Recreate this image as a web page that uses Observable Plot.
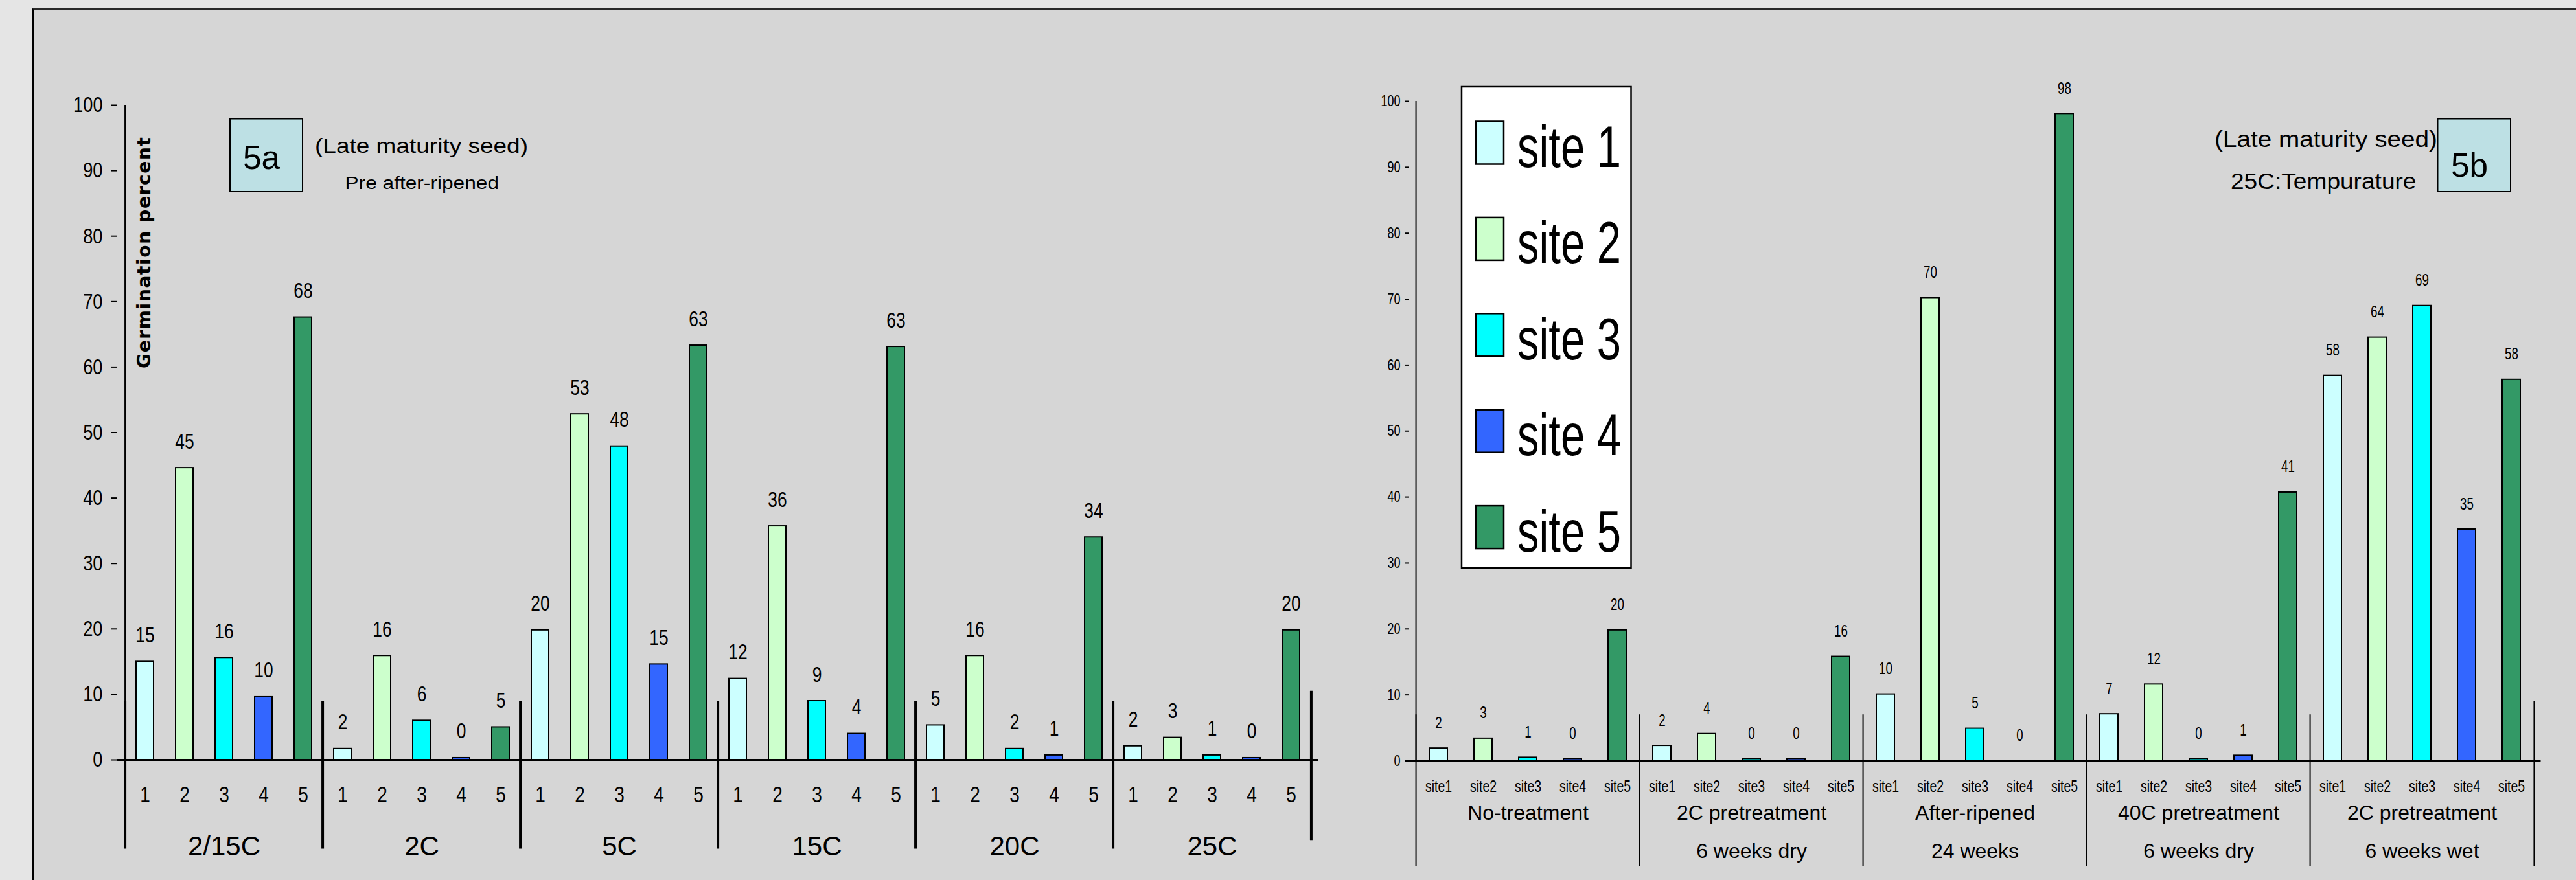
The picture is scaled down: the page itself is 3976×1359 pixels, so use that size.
<!DOCTYPE html>
<html><head><meta charset="utf-8">
<script src="https://cdn.jsdelivr.net/npm/d3@7"></script>
<script src="https://cdn.jsdelivr.net/npm/@observablehq/plot@0.6"></script>
<style>
html,body{margin:0;padding:0}
body{width:3976px;height:1359px;background:#e5e5e5;position:relative;overflow:hidden;font-family:"Liberation Sans",Arial,Helvetica,sans-serif}
#panel{position:absolute;left:50px;top:13px;width:4000px;height:1400px;background:#d6d6d6;border-left:2px solid #000;border-top:2px solid #2a2a2a}
.layer{position:absolute;left:0;top:0}
</style></head><body>
<div id="panel"></div>
<div id="chartA" class="layer"></div>
<div id="chartB" class="layer"></div>
<svg id="ov" class="layer" width="3976" height="1359"></svg>
<script>
// ---------------- data ----------------
const sites = ["site 1", "site 2", "site 3", "site 4", "site 5"];
const siteColors = ["#ccffff", "#ccffcc", "#00ffff", "#3366ff", "#339966"];

// 5a: germination temperature groups (pre after-ripened)
const groupsA = ["2/15C", "2C", "5C", "15C", "20C", "25C"];
const tickLabelsA = ["1", "2", "3", "4", "5"];
const valuesA = [
  [15.0, 44.6, 15.6, 9.6, 67.6],
  [1.7, 15.9, 6.0, 0.3, 5.0],
  [19.8, 52.8, 47.9, 14.6, 63.3],
  [12.4, 35.7, 9.0, 4.0, 63.1],
  [5.3, 15.9, 1.7, 0.7, 34.0],
  [2.1, 3.4, 0.7, 0.3, 19.8]
];

// 5b: treatments at 25C
const groupsB = ["No-treatment", "2C pretreatment", "After-ripened", "40C pretreatment", "2C pretreatment"];
const groupsB2 = ["", "6 weeks dry", "24 weeks", "6 weeks dry", "6 weeks wet"];
const tickLabelsB = ["site1", "site2", "site3", "site4", "site5"];
const valuesB = [
  [1.9, 3.4, 0.5, 0.3, 19.8],
  [2.3, 4.1, 0.3, 0.3, 15.8],
  [10.1, 70.2, 4.9, 0, 98.1],
  [7.1, 11.6, 0.3, 0.8, 40.7],
  [58.4, 64.2, 69.0, 35.1, 57.8]
];

// ---------------- helpers ----------------
const W = 3976, H = 1359;
const fontFam = '"Liberation Sans", Arial, Helvetica, sans-serif';

function build(groups, ticks, values) {
  const rows = [];
  groups.forEach((g, gi) => values[gi].forEach((v, si) =>
    rows.push({key: gi + "|" + si, gi, group: g, site: sites[si], tick: ticks[si], value: v})));
  return rows;
}
function condense(svg, factor) {
  svg.querySelectorAll("text").forEach(t => {
    if (!/^(\d+|site\d)$/.test(t.textContent.trim())) return;
    const w = t.getComputedTextLength();
    t.setAttribute("textLength", (w * factor).toFixed(2));
    t.setAttribute("lengthAdjust", "spacingAndGlyphs");
  });
}
const fmt = d => String(Math.round(d.value));

// ---------------- chart 5a ----------------
const dataA = build(groupsA, tickLabelsA, valuesA);
const keysA = dataA.map(d => d.key);
const A = {left: 180, right: 2035, top: 162, bottom: 1173};
const stepA = (A.right - A.left) / keysA.length;
const midA = groupsA.map((g, gi) => ({key: gi + "|2", label: g}));
const firstA = groupsA.map((g, gi) => ({key: gi + "|0"}));
const lastA = [{key: (groupsA.length - 1) + "|4"}];

const plotA = Plot.plot({
  width: W, height: H,
  marginLeft: A.left, marginRight: W - A.right, marginTop: A.top, marginBottom: H - A.bottom,
  style: {background: "transparent", fontFamily: fontFam, overflow: "visible", color: "black"},
  x: {type: "band", domain: keysA, paddingInner: 0.56, paddingOuter: 0.28, axis: null},
  y: {domain: [0, 100], axis: null},
  color: {domain: sites, range: siteColors},
  marks: [
    Plot.axisY({ticks: 10, tickSize: 9, tickPadding: 13, fontSize: 34, strokeWidth: 2, label: null, tickFormat: d => String(d)}),
    Plot.ruleX([keysA[0]], {dx: -stepA / 2, y1: 0, y2: 100, stroke: "black", strokeWidth: 2}),
    Plot.barY(dataA.filter(d => d.value > 0), {x: "key", y: "value", fill: "site", stroke: "black", strokeWidth: 2}),
    Plot.ruleY([0], {stroke: "black", strokeWidth: 3}),
    Plot.ruleX(firstA, {x: "key", dx: -stepA / 2, y1: 9, y2: -13.6, stroke: "black", strokeWidth: 4}),
    Plot.ruleX(lastA, {x: "key", dx: stepA / 2, y1: 10.5, y2: -12.3, stroke: "black", strokeWidth: 4}),
    Plot.text(dataA, {x: "key", y: "value", text: fmt, lineAnchor: "bottom", dy: -30, fontSize: 33}),
    Plot.text(dataA, {x: "key", y: 0, text: "tick", lineAnchor: "bottom", dy: 65, fontSize: 35}),
    Plot.text(midA, {x: "key", y: 0, text: "label", lineAnchor: "bottom", dy: 147, fontSize: 42})
  ]
});
document.getElementById("chartA").append(plotA);
condense(plotA, 0.8);

// ---------------- chart 5b ----------------
const dataB = build(groupsB, tickLabelsB, valuesB);
const keysB = dataB.map(d => d.key);
const B = {left: 2175, right: 3921.5, top: 156, bottom: 1174.5};
const stepB = (B.right - B.left) / keysB.length;
const midB = groupsB.map((g, gi) => ({key: gi + "|2", label: g, label2: groupsB2[gi]}));
const firstB = groupsB.map((g, gi) => ({key: gi + "|0"}));
const lastB = [{key: (groupsB.length - 1) + "|4"}];

const plotB = Plot.plot({
  width: W, height: H,
  marginLeft: B.left, marginRight: W - B.right, marginTop: B.top, marginBottom: H - B.bottom,
  style: {background: "transparent", fontFamily: fontFam, overflow: "visible", color: "black"},
  x: {type: "band", domain: keysB, paddingInner: 0.6, paddingOuter: 0.3, axis: null},
  y: {domain: [0, 100], axis: null},
  color: {domain: sites, range: siteColors},
  marks: [
    Plot.axisY({ticks: 10, tickSize: 7, tickPadding: 7, fontSize: 24, strokeWidth: 2, label: null, tickFormat: d => String(d)}),
    Plot.ruleX([keysB[0]], {dx: -stepB / 2, y1: 0, y2: 100, stroke: "black", strokeWidth: 2}),
    Plot.barY(dataB.filter(d => d.value > 0), {x: "key", y: "value", fill: "site", stroke: "black", strokeWidth: 2}),
    Plot.ruleY([0], {stroke: "black", strokeWidth: 3}),
    Plot.ruleX(firstB, {x: "key", dx: -stepB / 2, y1: 7, y2: -16, stroke: "black", strokeWidth: 2}),
    Plot.ruleX(lastB, {x: "key", dx: stepB / 2, y1: 9, y2: -16, stroke: "black", strokeWidth: 2}),
    Plot.text(dataB, {x: "key", y: "value", text: fmt, lineAnchor: "bottom", dy: -31, fontSize: 25}),
    Plot.text(dataB, {x: "key", y: 0, text: "tick", lineAnchor: "bottom", dy: 48, fontSize: 26}),
    Plot.text(midB, {x: "key", y: 0, text: "label", lineAnchor: "bottom", dy: 90.5, fontSize: 32}),
    Plot.text(midB, {x: "key", y: 0, text: "label2", lineAnchor: "bottom", dy: 149.5, fontSize: 32})
  ]
});
document.getElementById("chartB").append(plotB);
condense(plotB, 0.75);

// ---------------- annotations ----------------
const ov = d3.select("#ov");
function label(x, y, txt, size, len, extra) {
  const t = ov.append("text").attr("x", x).attr("y", y).attr("font-size", size)
    .attr("font-family", fontFam).attr("fill", "black").text(txt);
  if (len) t.attr("textLength", len).attr("lengthAdjust", "spacingAndGlyphs");
  if (extra) extra(t);
  return t;
}
// 5a panel
ov.append("rect").attr("x", 355).attr("y", 183.5).attr("width", 112).attr("height", 112.5)
  .attr("fill", "#bde0e4").attr("stroke", "black").attr("stroke-width", 2);
label(375, 261, "5a", 52, 57);
label(486, 236, "(Late maturity seed)", 32, 329);
label(532.5, 292, "Pre after-ripened", 27, 237.5);
ov.append("text").attr("transform", "translate(232,390.5) rotate(-90)")
  .attr("text-anchor", "middle").attr("font-family", '"DejaVu Sans", Verdana, sans-serif')
  .attr("font-weight", "bold").attr("font-size", 28)
  .attr("textLength", 357).attr("lengthAdjust", "spacing").text("Germination percent");

// 5b panel
ov.append("rect").attr("x", 3762.5).attr("y", 183.5).attr("width", 112.5).attr("height", 112.5)
  .attr("fill", "#bde0e4").attr("stroke", "black").attr("stroke-width", 2);
label(3783, 273, "5b", 52, 57);
label(3418, 227, "(Late maturity seed)", 35, 344);
label(3443, 292, "25C:Tempurature", 35, 286.5);

// legend
ov.append("rect").attr("x", 2256).attr("y", 134).attr("width", 261.5).attr("height", 743)
  .attr("fill", "white").attr("stroke", "black").attr("stroke-width", 2.5);
sites.forEach((s, i) => {
  const y0 = 187.5 + i * 148.4;
  ov.append("rect").attr("x", 2278).attr("y", y0).attr("width", 43).attr("height", 66)
    .attr("fill", siteColors[i]).attr("stroke", "black").attr("stroke-width", 2.5);
  label(2342, y0 + 70.5, s, 90, 160);
});
</script>
</body></html>
